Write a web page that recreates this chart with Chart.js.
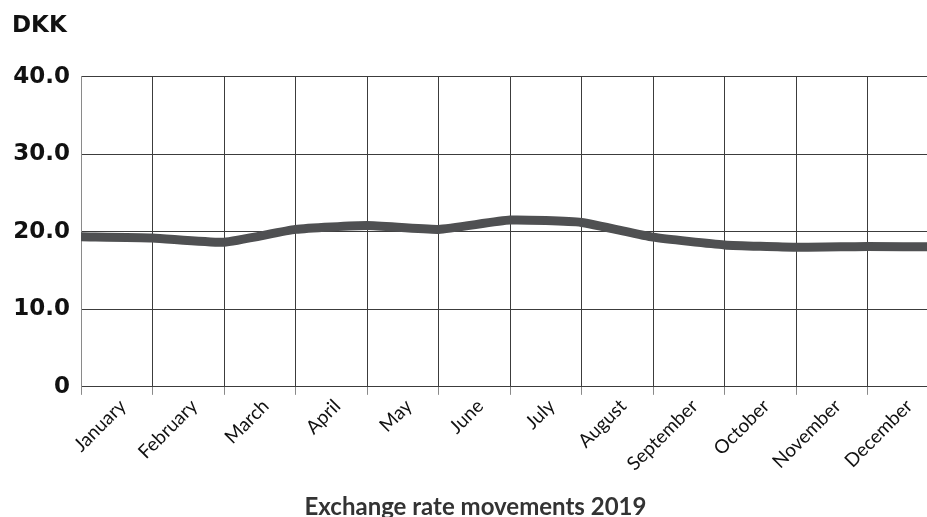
<!DOCTYPE html>
<html>
<head>
<meta charset="utf-8">
<script src="https://cdn.jsdelivr.net/npm/chart.js@4/dist/chart.umd.min.js"></script>
<style>
  html, body { margin: 0; padding: 0; background: #fff; overflow: hidden; }
  #wrap { width: 939px; height: 517px; }
</style>
</head>
<body>
<div id="wrap"><canvas id="chart" width="939" height="517"></canvas></div>
<script>
// Month names, each label sits in the middle of its month.
const months = ['January', 'February', 'March', 'April', 'May', 'June',
                'July', 'August', 'September', 'October', 'November', 'December'];

// DKK rate at the start of each month, plus the closing rate at year end.
const monthStartRate = [19.35, 19.2, 18.65, 20.3, 20.8, 20.3, 21.5, 21.2, 19.3, 18.3, 18.0, 18.1, 18.05];

// Value axis tick labels, bottom to top.
const yTickLabels = ['0', '10.0', '20.0', '30.0', '40.0'];

const unitLabel = 'DKK';
const chartCaption = 'Exchange rate movements 2019';

const GRID = '#3c3c3c';
const AXIS_GREY = '#8a8a8a';

new Chart(document.getElementById('chart'), {
  type: 'line',
  data: {
    datasets: [{
      data: monthStartRate.map((v, i) => ({ x: i, y: v })),
      borderColor: '#4f5052',
      borderWidth: 9,
      pointRadius: 0,
      tension: 0.15,
      fill: false
    }]
  },
  options: {
    responsive: false,
    animation: false,
    devicePixelRatio: 1,
    layout: { padding: { left: 12, right: 0, top: 0, bottom: 0 } },
    plugins: {
      legend: { display: false },
      tooltip: { enabled: false },
      title: {
        display: true,
        text: unitLabel,
        align: 'start',
        color: '#111',
        font: { family: 'DejaVu Sans', size: 23, weight: 'bold' },
        padding: { top: 12, bottom: 37 }
      },
      subtitle: {
        display: true,
        position: 'bottom',
        text: chartCaption,
        color: '#333',
        font: { family: 'Lato', size: 24, weight: 'bold' },
        padding: { top: 18, bottom: -5 }
      }
    },
    scales: {
      x: {
        type: 'linear',
        min: 0,
        max: monthStartRate.length - 1,
        afterBuildTicks: (scale) => {
          const ticks = [];
          for (let i = 0; i <= months.length; i++) {
            ticks.push({ value: i });
            if (i < months.length) ticks.push({ value: i + 0.5 });
          }
          scale.ticks = ticks;
        },
        afterFit: (scale) => { scale.paddingRight = 0; scale.paddingLeft = 0; },
        ticks: {
          autoSkip: false,
          minRotation: 45,
          maxRotation: 45,
          padding: 0,
          labelOffset: 6,
          color: '#111',
          font: { family: 'Lato', size: 19 },
          callback: (value) => Number.isInteger(value) ? '' : months[Math.floor(value)]
        },
        grid: {
          color: (ctx) => (ctx.tick && Number.isInteger(ctx.tick.value)) ? GRID : 'rgba(0,0,0,0)',
          tickColor: (ctx) => (ctx.tick && Number.isInteger(ctx.tick.value)) ? AXIS_GREY : 'rgba(0,0,0,0)',
          tickLength: 8,
          lineWidth: 1
        },
        border: { display: true, color: GRID, width: 1 }
      },
      y: {
        min: 0,
        max: 40,
        afterFit: (scale) => { scale.width = 69; },
        ticks: {
          stepSize: 10,
          padding: 11,
          color: '#111',
          font: { family: 'DejaVu Sans', size: 23, weight: 'bold' },
          callback: (value, index) => yTickLabels[index]
        },
        grid: { color: GRID, drawTicks: false, lineWidth: 1 },
        border: { display: true, color: AXIS_GREY, width: 1 }
      }
    }
  }
});
</script>
</body>
</html>
